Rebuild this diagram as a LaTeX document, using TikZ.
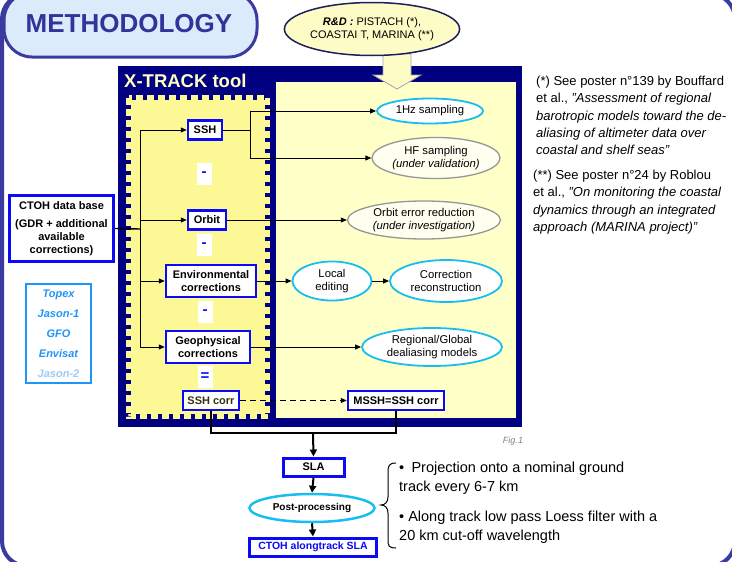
\documentclass[tikz,border=0pt]{standalone}
\usepackage{fontspec}
\setmainfont{Liberation Sans}
\usetikzlibrary{shapes.geometric,arrows.meta}
\definecolor{framecol}{RGB}{58,58,160}
\definecolor{pillfill}{RGB}{220,235,252}
\definecolor{titlecol}{RGB}{51,51,153}
\definecolor{navy}{RGB}{0,0,128}
\definecolor{xtcol}{RGB}{255,255,192}
\definecolor{rpanel}{RGB}{255,255,200}
\definecolor{lpanel}{RGB}{252,248,150}
\definecolor{boxblue}{RGB}{10,10,245}
\definecolor{cyanb}{RGB}{25,190,240}
\definecolor{grayb}{RGB}{150,150,150}
\definecolor{grayfill}{RGB}{255,255,240}
\definecolor{satblue}{RGB}{30,150,248}
\definecolor{satlight}{RGB}{160,200,244}
\definecolor{rdfill}{RGB}{253,251,198}
\definecolor{rdline}{RGB}{30,30,90}
\definecolor{corrtext}{RGB}{50,50,20}
\newcommand\fsz[2]{\fontsize{#1}{#2}\selectfont}
\begin{document}
\begin{tikzpicture}[x=1pt,y=-1pt,
  box/.style={draw=boxblue, line width=2.5pt, fill=white, inner sep=1pt, align=center, font=\bfseries\fsz{11}{12.5}},
  cyanell/.style={ellipse, draw=cyanb, line width=1.8pt, fill=white, inner sep=0pt, align=center, font=\fsz{11.3}{13}},
  grayell/.style={ellipse, draw=grayb, line width=1.3pt, fill=grayfill, inner sep=0pt, align=center, font=\fsz{11.3}{13}},
  minus/.style={fill=white, minimum width=15pt, minimum height=22pt, inner sep=0pt, text=boxblue, font=\bfseries\fsz{15}{16}},
  conn/.style={line width=0.9pt, draw=black},
  arr/.style={conn, -{Triangle[length=6pt,width=5pt]}},
  vert/.style={line width=2pt, -{Triangle[length=7pt,width=7pt]}},
]
\useasboundingbox (0,0) rectangle (732,562);
% outer frame
\draw[framecol, line width=4pt, rounded corners=25pt] (2,-6) rectangle (735,566);
% title pill
\draw[framecol, fill=pillfill, line width=3pt, rounded corners=28pt] (4,-8) rectangle (257,57);
\node[text=titlecol, font=\bfseries\fsz{26}{28}] (title) at (129,24) {METHODOLOGY};
% X-TRACK box
\fill[navy] (118,66) rectangle (522,427);
\node[anchor=west, text=xtcol, font=\bfseries\fsz{18.5}{20}, inner sep=0pt] (xt) at (124,81) {X-TRACK tool};
\fill[rpanel] (276,82) rectangle (516,418);
\fill[lpanel] (131,100) rectangle (265,414);
\draw[lpanel, line width=5pt, dash pattern=on 7pt off 4pt] (128.5,97.5) rectangle (267.5,416.5);
% block arrow
\draw[fill=rdfill, draw=gray!70, line width=0.8pt] (383,54) -- (411,54) -- (411,75) -- (421,75) -- (397,89) -- (373,75) -- (383,75) -- cycle;
\node[ellipse, draw=rdline, line width=1.5pt, fill=rdfill, minimum width=160pt, minimum height=53pt, inner sep=0pt, align=center, font=\fsz{11}{12.6}] (rd) at (372,29) {\textbf{\textit{R\&D :}} PISTACH (*),\\COASTAI T, MARINA (**)};
% left boxes
\node[box, minimum width=34pt, minimum height=19pt] (ssh) at (205,130) {SSH};
\node[box, minimum width=38pt, minimum height=19pt] (orbit) at (207,220) {Orbit};
\node[box, minimum width=90pt, minimum height=32pt] (env) at (211,281) {Environmental\\corrections};
\node[box, minimum width=84pt, minimum height=32pt] (geo) at (208,347) {Geophysical\\corrections};
\node[box, minimum width=56pt, minimum height=19pt, text=corrtext] (sshcorr) at (211,400.5) {SSH corr};
\node[box, minimum width=96pt, minimum height=19pt] (mssh) at (396,400.5) {MSSH=SSH corr};
\node[minus] (m1) at (204,174) {-};
\node[minus] (m2) at (204,245) {-};
\node[minus] (m3) at (205,312) {-};
\node[minus] (m4) at (205,377) {=};
% ellipses
\node[cyanell, minimum width=106pt, minimum height=25pt] (hz) at (430,111) {1Hz sampling};
\node[grayell, minimum width=128pt, minimum height=41pt] (hf) at (436,158) {HF sampling\\\textit{(under validation)}};
\node[grayell, minimum width=153pt, minimum height=38pt] (oer) at (424,220) {Orbit error reduction\\\textit{(under investigation)}};
\node[cyanell, minimum width=79pt, minimum height=39pt] (loc) at (332,281) {Local\\editing};
\node[cyanell, minimum width=112pt, minimum height=42pt] (cor) at (446,281) {Correction\\reconstruction};
\node[cyanell, minimum width=140pt, minimum height=38pt] (reg) at (432,347) {Regional/Global\\dealiasing models};
% left side boxes
\node[box, line width=3pt, minimum width=104pt, minimum height=66pt, font=\bfseries\fsz{11}{13}] (ctoh) at (61.5,228.5) {CTOH data base\\[5pt](GDR + additional\\available\\corrections)};
\node[draw=satblue, line width=2.5pt, fill=white, minimum width=65pt, minimum height=99pt, inner sep=0pt, align=center, font=\bfseries\itshape\fsz{11}{20}] (sats) at (58.5,333.5) {\textcolor{satblue}{Topex}\\\textcolor{satblue}{Jason-1}\\\textcolor{satblue}{GFO}\\\textcolor{satblue}{Envisat}\\\textcolor{satlight}{Jason-2}};
% bottom chain
\node[box, line width=3pt, minimum width=61pt, minimum height=18pt] (sla) at (313.5,467) {SLA};
\node[ellipse, draw=cyanb, line width=2.5pt, fill=white, minimum width=125pt, minimum height=28pt, inner sep=0pt, font=\bfseries\fsz{10}{11}] (post) at (312,508) {Post-processing};
\node[box, line width=3pt, minimum width=127pt, minimum height=18pt, text=boxblue, font=\bfseries\fsz{10.5}{12}] (final) at (313,547) {CTOH alongtrack SLA};
% connectors
\coordinate (trunk) at (140,229);
\draw[line width=1.4pt] (ctoh.east) -- (trunk);
\draw[conn] (trunk |- ssh.west) -- (trunk |- geo.west);
\foreach \n in {ssh,orbit,env,geo} \draw[arr] (trunk |- \n.west) -- (\n.west);
\coordinate (jn) at (250,130);
\draw[conn] (ssh.east) -- (jn);
\draw[conn] (jn |- hz.west) -- (jn |- hf.west);
\draw[arr] (jn |- hz.west) -- (hz.west);
\draw[arr] (jn |- hf.west) -- (hf.west);
\draw[arr] (orbit.east) -- (oer.west);
\draw[arr] (env.east) -- (loc.west);
\draw[arr] (loc.east) -- (cor.west);
\draw[arr] (geo.east) -- (reg.west);
\draw[arr, dash pattern=on 6pt off 4pt] (sshcorr.east) -- (mssh.west);
\coordinate (bot) at (313,433);
\draw[line width=2.5pt] (sshcorr.south) -- (sshcorr.south |- bot) -- (mssh.south |- bot) -- (mssh.south);
\draw[vert] (bot) -- (sla.north);
\draw[vert] (sla.south) -- (post.north);
\draw[vert] (post.south) -- (final.north);
% fig label
\node[text=gray, font=\itshape\fsz{9}{10}] (fig) at (513,441) {Fig.1};
% notes
\node[anchor=north west, inner sep=0pt, align=left, font=\fsz{13}{17.3}] (n1) at (536,76) {(*) See poster n°139 by Bouffard\\et al., \textit{"Assessment of regional}\\\textit{barotropic models toward the de-}\\\textit{aliasing of altimeter data over}\\\textit{coastal and shelf seas"}};
\node[anchor=north west, inner sep=0pt, align=left, font=\fsz{13}{17.3}] (n2) at (533,170) {(**) See poster n°24 by Roblou\\et al., \textit{"On monitoring the coastal}\\\textit{dynamics through an integrated}\\\textit{approach (MARINA project)"}};
% brace and bullets
\draw[line width=1pt] (396,463) .. controls (389,463) and (388,466) .. (388,472) -- (388,497) .. controls (388,502) and (385,505) .. (381,505) .. controls (385,505) and (388,508) .. (388,513) -- (388,540) .. controls (388,546) and (389,548) .. (396,548);
\node[anchor=north west, inner sep=0pt, align=left, font=\fsz{14.5}{18.5}] (b1) at (399,462) {•\enspace Projection onto a nominal ground\\track every 6-7 km};
\node[anchor=north west, inner sep=0pt, align=left, font=\fsz{14.5}{18.5}] (b2) at (399,511) {• Along track low pass Loess filter with a\\20 km cut-off wavelength};
\end{tikzpicture}
\end{document}
